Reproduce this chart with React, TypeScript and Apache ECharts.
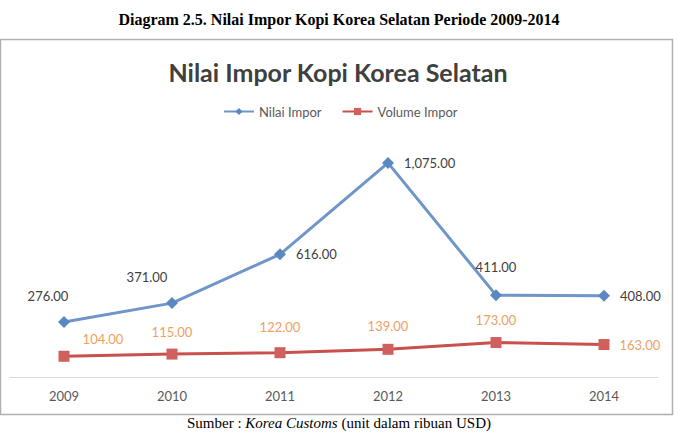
import React, { useEffect, useRef } from "react";
import * as echarts from "echarts";

const years = ["2009", "2010", "2011", "2012", "2013", "2014"];
const nilaiImpor = [276, 371, 616, 1075, 411, 408];
const volumeImpor = [104, 115, 122, 139, 173, 163];

const nilaiLabelPos: any[] = [
  { position: "top", offset: [-16, -4] },
  { position: "top", offset: [-25, -4] },
  { position: "right" },
  { position: "right" },
  { position: "top", offset: [0, -6] },
  { position: "right" },
];
const volumeLabelPos: any[] = [
  { position: "top", offset: [39, 5] },
  { position: "top", offset: [0, 0] },
  { position: "top", offset: [0, -4] },
  { position: "top", offset: [0, -1] },
  { position: "top", offset: [0, -1] },
  { position: "right" },
];

const fmt = (v: number) =>
  v.toLocaleString("en-US", { minimumFractionDigits: 2, maximumFractionDigits: 2 });

export default function App() {
  const ref = useRef<HTMLDivElement>(null);
  useEffect(() => {
    document.body.style.margin = "0";
    const chart = echarts.init(ref.current!, null, { renderer: "svg" });
    chart.setOption({
      animation: false,
      backgroundColor: "#ffffff",
      title: [
        {
          text: "Diagram 2.5. Nilai Impor Kopi Korea Selatan Periode 2009-2014",
          left: "center",
          top: 6,
          textStyle: { fontFamily: "Liberation Serif", fontWeight: "bold", fontSize: 16, color: "#000" },
        },
        {
          text: "Nilai Impor Kopi Korea Selatan",
          left: 333,
          textAlign: "center",
          top: 54,
          textStyle: { fontFamily: "Lato", fontWeight: "bold", fontSize: 25, color: "#404040" },
        },
      ],
      graphic: [
        {
          type: "rect",
          shape: { x: 0.5, y: 39.5, width: 672, height: 375 },
          style: { fill: "none", stroke: "#b0b0b0", lineWidth: 1.5 },
          silent: true,
        },
        {
          type: "text",
          x: 339,
          y: 423,
          style: {
            text: "Sumber : {i|Korea Customs} (unit dalam ribuan USD)",
            fontFamily: "Liberation Serif",
            fontSize: 15,
            fill: "#000",
            align: "center",
            verticalAlign: "middle",
            rich: { i: { fontStyle: "italic", fontFamily: "Liberation Serif", fontSize: 15 } },
          } as any,
        },
      ],
      legend: {
        top: 100,
        left: 218,
        itemWidth: 30,
        itemHeight: 9,
        itemGap: 20,
        textStyle: { fontFamily: "Lato", fontSize: 13, color: "#595959" },
        data: ["Nilai Impor", "Volume Impor"],
      },
      grid: { left: 10, right: 20, top: 138, bottom: 55, containLabel: false },
      xAxis: {
        type: "category",
        data: years,
        boundaryGap: true,
        axisLine: { lineStyle: { color: "#d9d9d9", width: 1 } },
        axisTick: { show: false },
        axisLabel: { color: "#595959", fontFamily: "Lato", fontSize: 13, margin: 12 },
      },
      yAxis: {
        type: "value",
        min: 0,
        max: 1200,
        interval: 200,
        show: false,
        splitLine: { show: false },
      },
      series: [
        {
          name: "Nilai Impor",
          type: "line",
          data: nilaiImpor.map((v, i) => ({
            value: v,
            label: { show: true, ...nilaiLabelPos[i] },
          })),
          symbol: "diamond",
          symbolSize: 12,
          lineStyle: { width: 3, color: "#6f95c9" },
          itemStyle: { color: "#5b87c2" },
          label: {
            show: true,
            formatter: (p: any) => fmt(p.value),
            color: "#404040",
            fontFamily: "Lato",
            fontSize: 13,
            distance: 10,
          },
        },
        {
          name: "Volume Impor",
          type: "line",
          data: volumeImpor.map((v, i) => ({
            value: v,
            label: { show: true, ...volumeLabelPos[i] },
          })),
          symbol: "rect",
          symbolSize: 11,
          lineStyle: { width: 3, color: "#c9504d" },
          itemStyle: { color: "#d0605d" },
          label: {
            show: true,
            formatter: (p: any) => fmt(p.value),
            color: "#f0a060",
            fontFamily: "Lato",
            fontSize: 13,
            distance: 10,
          },
        },
      ],
    });
    return () => chart.dispose();
  }, []);
  return <div ref={ref} style={{ width: 678, height: 432 }} />;
}
